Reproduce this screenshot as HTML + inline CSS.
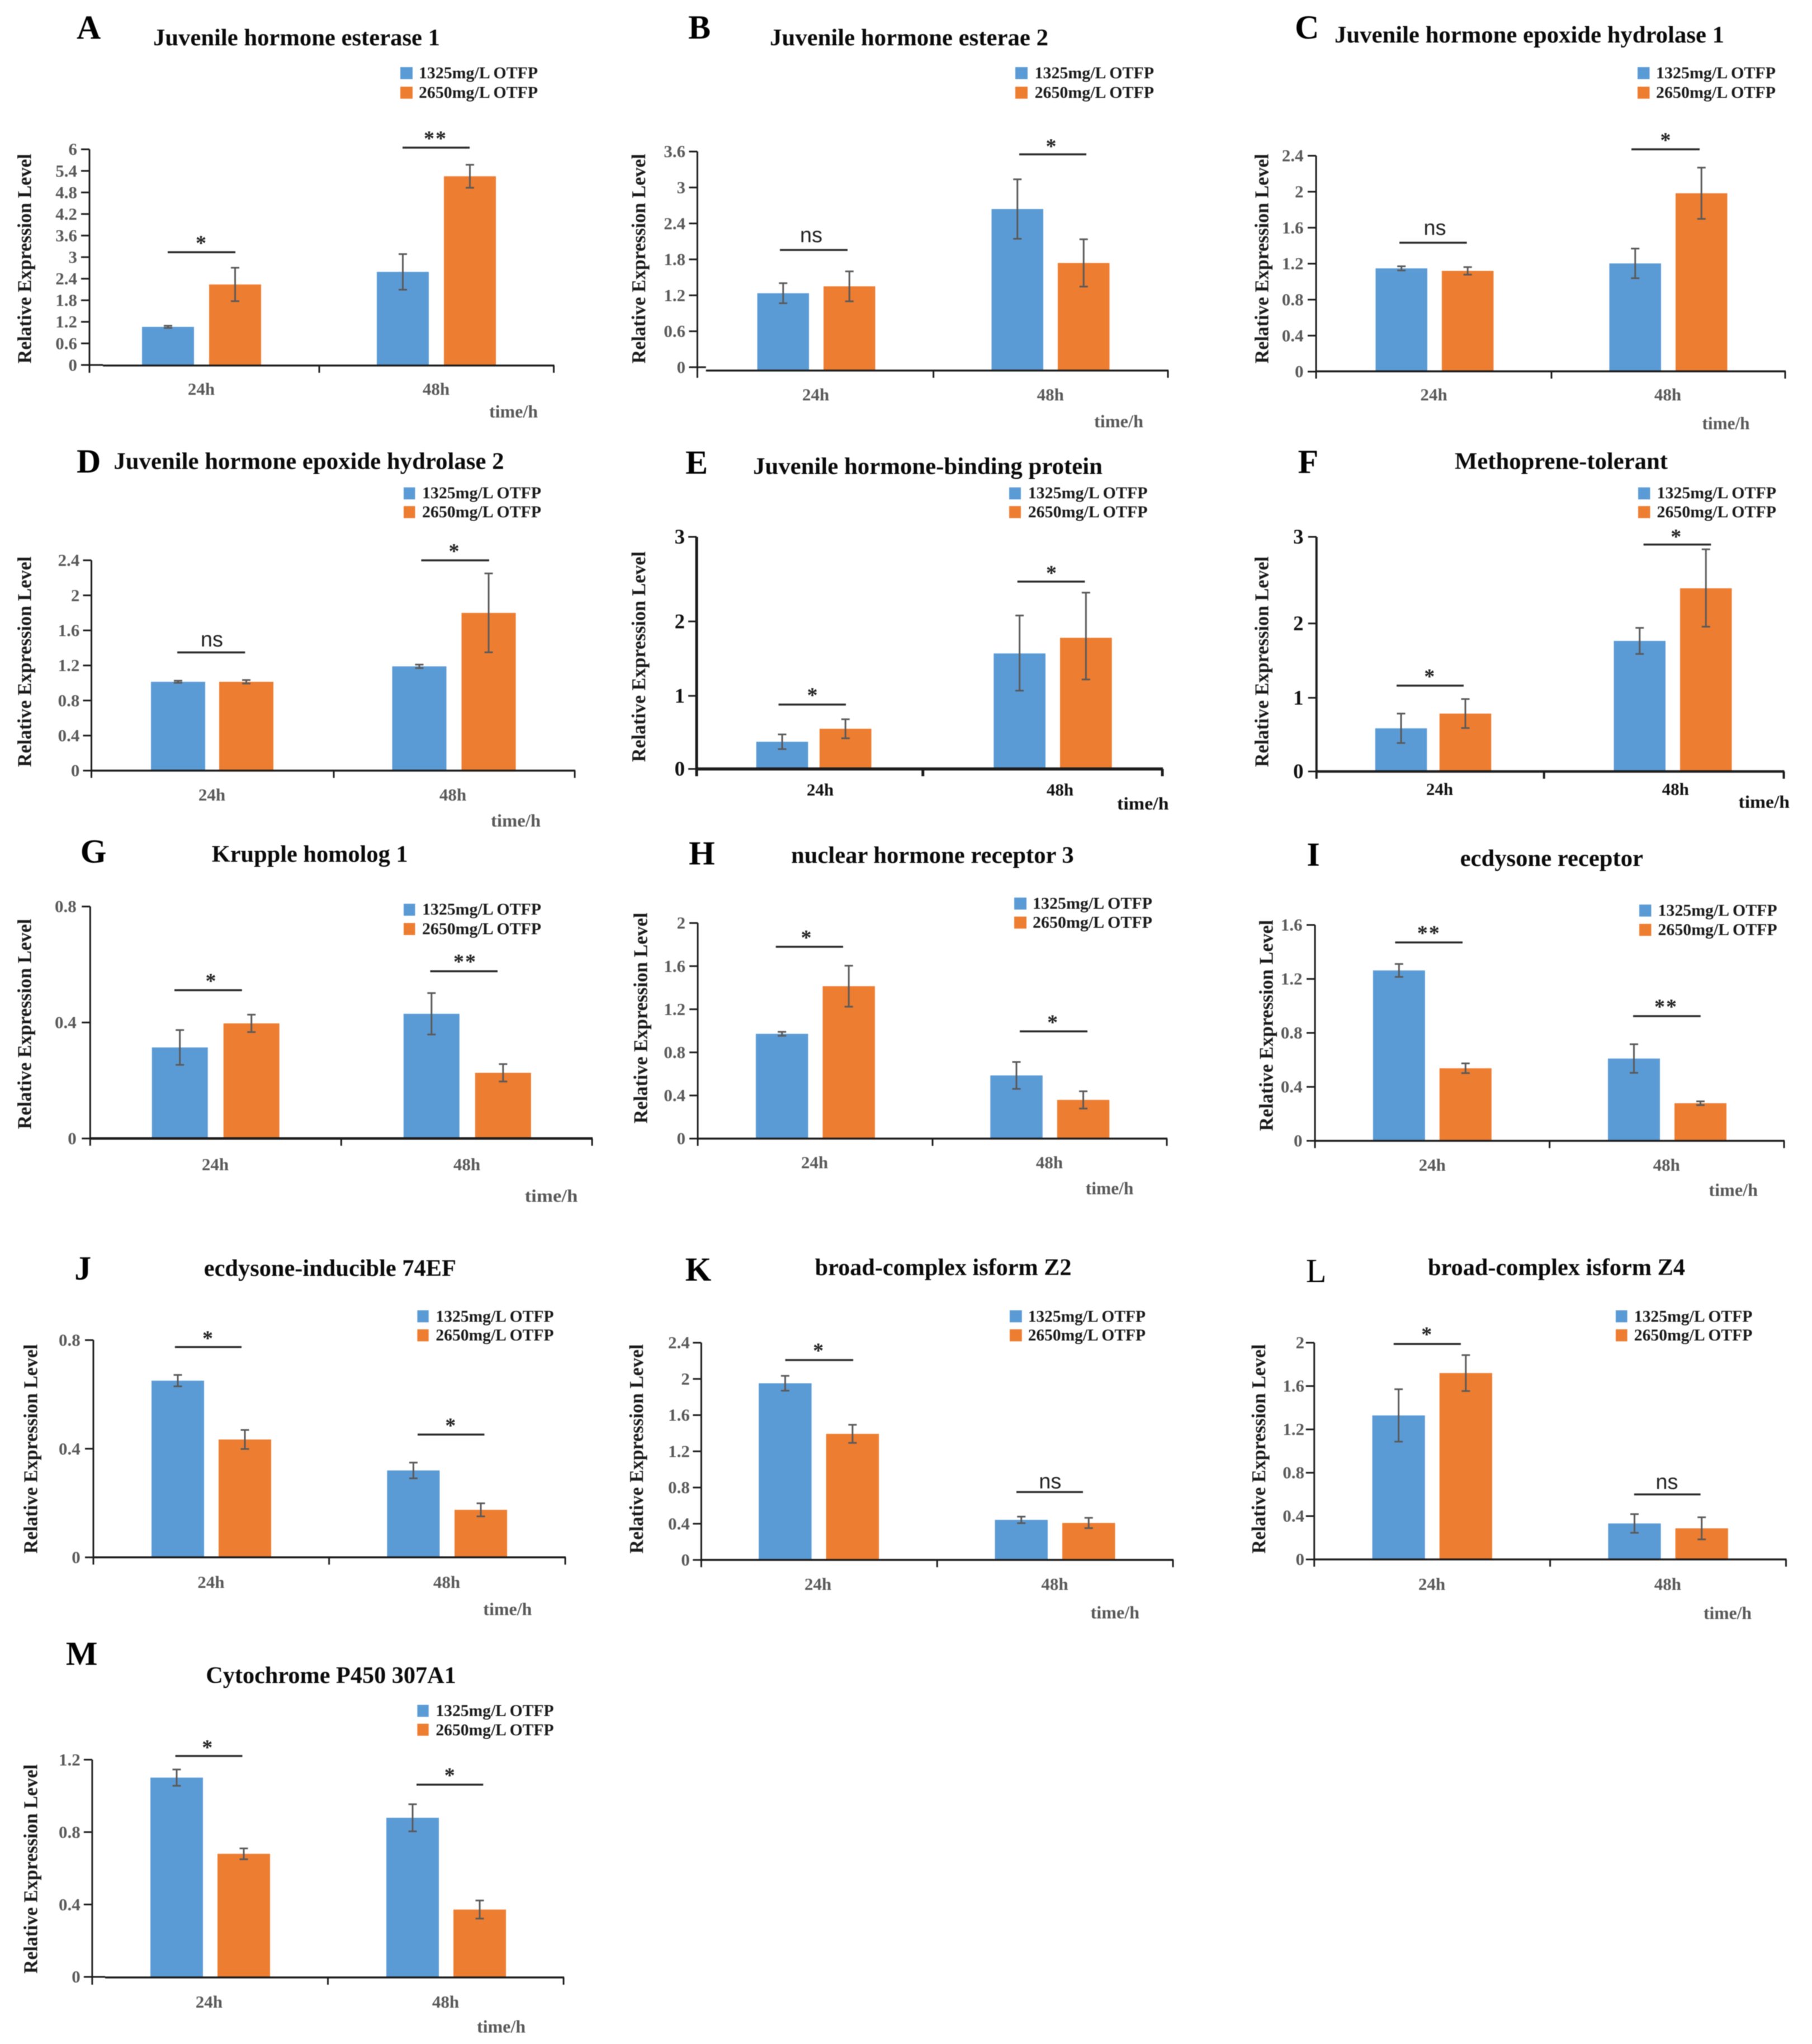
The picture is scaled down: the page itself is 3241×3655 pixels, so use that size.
<!DOCTYPE html>
<html lang="en">
<head>
<meta charset="utf-8">
<title>Relative expression of hormone pathway genes after OTFP exposure</title>
<style>
html,body{margin:0;padding:0;background:#fff;width:3241px;height:3655px;overflow:hidden}
svg{display:block;filter:blur(0.9px)}
</style>
</head>
<body>
<svg id="figure" xmlns="http://www.w3.org/2000/svg" width="3241" height="3655" viewBox="0 0 3241 3655">
<rect x="0" y="0" width="3241" height="3655" fill="#ffffff"/>
</svg>
<script>
// ---- Chart data (one row per panel, A to M) ----
const panelLetters = ['A','B','C','D','E','F','G','H','I','J','K','L','M'];
const panelTitles = [
  'Juvenile hormone esterase 1','Juvenile hormone esterae 2','Juvenile hormone epoxide hydrolase 1',
  'Juvenile hormone epoxide hydrolase 2','Juvenile hormone-binding protein','Methoprene-tolerant',
  'Krupple homolog 1','nuclear hormone receptor 3','ecdysone receptor',
  'ecdysone-inducible 74EF','broad-complex isform Z2','broad-complex isform Z4','Cytochrome P450 307A1'
];
const categories = ['24h','48h'];
const seriesNames = ['1325mg/L OTFP','2650mg/L OTFP'];
const yAxisTitle = 'Relative Expression Level';
const xAxisTitle = 'time/h';
const tickLabels = [
  ['0','0.6','1.2','1.8','2.4','3','3.6','4.2','4.8','5.4','6'],
  ['0','0.6','1.2','1.8','2.4','3','3.6'],
  ['0','0.4','0.8','1.2','1.6','2','2.4'],
  ['0','0.4','0.8','1.2','1.6','2','2.4'],
  ['0','1','2','3'],
  ['0','1','2','3'],
  ['0','0.4','0.8'],
  ['0','0.4','0.8','1.2','1.6','2'],
  ['0','0.4','0.8','1.2','1.6'],
  ['0','0.4','0.8'],
  ['0','0.4','0.8','1.2','1.6','2','2.4'],
  ['0','0.4','0.8','1.2','1.6','2'],
  ['0','0.4','0.8','1.2']
];
const lowDoseValues = [
  [1.06,2.59],[1.235,2.64],[1.148,1.203],[1.0135,1.19],[0.372,1.57],[0.586,1.765],
  [0.314,0.43],[0.972,0.586],[1.263,0.61],[0.6506,0.32],[1.952,0.4426],[1.329,0.332],[1.101,0.879]
];
const highDoseValues = [
  [2.24,5.25],[1.35,1.74],[1.12,1.983],[1.0135,1.80],[0.55,1.78],[0.786,2.406],
  [0.397,0.2265],[1.414,0.359],[0.538,0.279],[0.434,0.175],[1.393,0.4085],[1.72,0.287],[0.68,0.372]
];
const lowDoseErrors = [
  [0.03,0.495],[0.167,0.497],[0.023,0.165],[0.012,0.02],[0.1,0.5],[0.2,0.175],
  [0.06,0.0715],[0.018,0.125],[0.048,0.106],[0.021,0.029],[0.082,0.036],[0.242,0.086],[0.045,0.075]
];
const highDoseErrors = [
  [0.465,0.32],[0.25,0.395],[0.042,0.285],[0.02,0.45],[0.13,0.56],[0.197,0.45],
  [0.03,0.03],[0.19,0.08],[0.036,0.014],[0.035,0.024],[0.1,0.057],[0.166,0.102],[0.03,0.05]
];
const significance = [
  ['*','**'],['ns','*'],['ns','*'],['ns','*'],['*','*'],['*','*'],
  ['*','**'],['*','*'],['**','**'],['*','*'],['*','ns'],['*','ns'],['*','*']
];

// ---- Panel geometry (separate from data) ----
const layouts = [
 {ax:160,y0:652.6,top:267,axisY:653.6,xs:184,right:990.5,mid:571,c:[360.5,780.5],w:93,gap:[27,27],tickR:138,yt:[43.5,275,650],title:[274,787,67],letter:[137,69],
  leg:[716,22,[120,155],749,962,[130,165]],catY:696,catX:[360,780],time:[875,962,736],sig:[[300,421,451,360.5,429],[720,840,264,779,242]]},
 {ax:1247.3,y0:656.6,top:271,axisY:662.6,xs:1262.7,right:2089,mid:1669.6,c:[1460,1879],w:92.5,gap:[26,26],tickR:1226,yt:[1142,275,650],title:[1377,1875,67],letter:[1231,69],
  leg:[1816,22,[120,155],1850.6,2064,[130,165]],catY:706,catX:[1459,1878.7],time:[1957,2045,753.5],sig:[[1395,1516,447,1451,423],[1823,1943,276,1881,256]]},
 {ax:2354,y0:664.5,top:278.5,axisY:664,right:3193,mid:2775,c:[2565.9,2984],w:92.5,gap:[26,26],tickR:2331.5,yt:[2256.4,275,650],title:[2387,3084,62],letter:[2316,69],
  leg:[2929,21.5,[120,155],2962,3176,[130,165]],catY:706,catX:[2564.5,2983],time:[3044.5,3129.5,757],sig:[[2503,2623.6,434,2566.5,410],[2918,3040,267,2980,245]]},
 {ax:163.5,y0:1378,top:1001.9,axisY:1378,right:1028,mid:597,c:[379.5,812],w:97,gap:[25,27],tickR:142.4,yt:[43.5,995,1371.5],title:[203.4,901.5,824.6],letter:[137,845],
  leg:[722,20.5,[871.5,905],755,968,[881,915]],catY:1421.5,catX:[379,810],time:[878,967,1467.5],sig:[[317,438.4,1166.6,379,1146],[753.4,874.8,1002,813,980]]},
 {ax:1246,y0:1375,top:960,axisY:1375,right:2079,mid:1650.7,c:[1455.6,1883],w:92.7,gap:[20.5,26],tickR:1225,yt:[1142,986,1362.5],title:[1347,1972,833.6],letter:[1226,847],
  leg:[1805,21,[871.5,905],1838.7,2052.6,[881,915]],catY:1412.6,catX:[1467,1896],time:[1998,2090.5,1437],sig:[[1392.5,1513,1259.9,1454,1237.6],[1819.7,1940.4,1040,1881.5,1018.8]],
  yPx:[1375,1244.3,1111.2,960],dark:true,yw:5,xw:5.5},
 {ax:2354.7,y0:1379.5,top:960,axisY:1379.5,right:3190.5,mid:2761.7,c:[2563.5,2992],w:92.5,gap:[22.5,26],tickR:2331.5,yt:[2256.4,995,1371.5],title:[2602,2983,824.6],letter:[2321.5,846],
  leg:[2930,21.5,[871.5,905],2963.5,3177,[881,915]],catY:1411.7,catX:[2575,2996.7],time:[3109.5,3201,1434],sig:[[2498,2618,1226,2557.8,1204],[2939.6,3060.4,973.7,2998.7,954]],
  yPx:[1379.5,1247.8,1114.8,960],dark:true,yw:4,xw:4.5},
 {ax:161.3,y0:2035.8,top:1621,axisY:2035.8,right:1059,mid:610.3,c:[385.7,835.8],w:100,gap:[28,28],tickR:136.8,yt:[43.5,1643,2019],title:[378.8,729.6,1527],letter:[143.8,1542.5],
  leg:[722,20.5,[1616,1650.5],755,968,[1625.5,1660.3]],catY:2082.6,catX:[385,835],time:[938.6,1033.3,2138.4],sig:[[312,432.8,1770.6,378,1748.7],[769.5,890,1736.7,832,1714]],xw:4.5},
 {ax:1248,y0:2036,top:1650.5,axisY:2036,right:2087,mid:1668,c:[1458.4,1877.8],w:93.5,gap:[26,26],tickR:1226,yt:[1145.6,1632,2009],title:[1415,1920.7,1529],letter:[1232,1546],
  leg:[1814,22,[1605,1639],1847,2061,[1614.8,1649.2]],catY:2079,catX:[1457,1877],time:[1941.8,2027.4,2125],sig:[[1387.6,1508,1693,1443,1671],[1824,1945,1844.3,1883.6,1822.4]]},
 {ax:2352,y0:2040,top:1654,axisY:2040,right:3191,mid:2771.6,c:[2561.8,2982],w:93,gap:[26,26],tickR:2329.5,yt:[2264.4,1645,2022.4],title:[2611.6,2939,1534.5],letter:[2337.4,1548],
  leg:[2932,21.5,[1617.5,1652],2965.5,3178.6,[1627.3,1662.1]],catY:2083.5,catX:[2561.8,2980.7],time:[3056.4,3144,2128],sig:[[2495.4,2616,1685.3,2555.8,1663],[2921,3041.8,1817,2980,1794.7]]},
 {ax:167,y0:2784.8,top:2396.3,axisY:2784.8,right:1011,mid:588.6,c:[378,799.7],w:94,gap:[26,26.6],tickR:143.8,yt:[54.7,2403.7,2778],title:[364.8,815.9,2267.3],letter:[133.3,2288],
  leg:[746.4,20.3,[2343,2377],779.4,990.5,[2353.6,2387]],catY:2829.4,catX:[377.4,799],time:[864.3,951.3,2877.6],sig:[[312.9,432,2408.7,372.5,2387.6],[747,866.4,2565.3,806.7,2543.7]]},
 {ax:1254.3,y0:2789.4,top:2401,axisY:2789.4,right:2098,mid:1676.2,c:[1464.6,1887],w:94.5,gap:[26,26],tickR:1233.8,yt:[1138,2403.7,2778],title:[1457.7,1916.5,2266],letter:[1225.6,2290],
  leg:[1806,21.8,[2343,2377],1838.7,2049,[2353.6,2387]],catY:2833,catX:[1463,1886.5],time:[1950.6,2038,2883.6],sig:[[1404.5,1526,2432,1464.6,2409.6],[1818,1937,2668,1878.3,2651.6]]},
 {ax:2350.7,y0:2788.5,top:2401,axisY:2788.5,right:3194.5,mid:2772.6,c:[2561.7,2983.6],w:94.2,gap:[26,26],tickR:2333,yt:[2251,2403.7,2778],title:[2554,3014,2266],letter:[2335.7,2292.6],thinLetter:true,
  leg:[2890,20.6,[2343,2377],2922.8,3134.4,[2353.6,2387]],catY:2833,catX:[2561,2982.9],time:[3047,3133,2884.5],sig:[[2492.7,2612.9,2403.2,2552.8,2380.7],[2922.8,3041.6,2672.3,2981.5,2652.6]]},
 {ax:164.9,y0:3535,top:3146.6,axisY:3536,xs:188,right:1008,mid:586.5,c:[376,798],w:94,gap:[26,26],tickR:143.8,yt:[54.7,3155,3529],title:[368.3,815.8,2995.6],letter:[117.9,2977],
  leg:[746.4,20.3,[3048.5,3082.3],779.4,990.5,[3058.6,3092.8]],catY:3579.8,catX:[373.9,797],time:[853,940,3624],sig:[[313.6,433.5,3140,371.8,3118.8],[745,864.3,3191.3,805.3,3169]]}
];

// ---- Drawing helpers ----
const NS = 'http://www.w3.org/2000/svg';
const BLUE = '#5B9BD5', ORANGE = '#ED7D31', AXIS = '#1c1c1c', ERR = '#595959', GREY = '#595959';
const SERIF = '"Liberation Serif","Noto Serif CJK SC",serif';
const SANS = '"Liberation Sans","Noto Sans CJK SC",sans-serif';
const root = document.getElementById('figure');

function svgEl(tag, parent, attrs) {
  const el = document.createElementNS(NS, tag);
  for (const k in attrs) el.setAttribute(k, attrs[k]);
  parent.appendChild(el);
  return el;
}
function label(parent, str, attrs) {
  const el = svgEl('text', parent, attrs);
  el.textContent = str;
  return el;
}
// Vertical axis function: value -> pixel, linear between tick positions
function makeYScale(lay, tickVals) {
  const n = tickVals.length;
  const px = lay.yPx || tickVals.map(function (v) {
    return lay.y0 + (lay.top - lay.y0) * (v - tickVals[0]) / (tickVals[n - 1] - tickVals[0]);
  });
  return function (v) {
    let i = 0;
    while (i < n - 2 && v > tickVals[i + 1]) i++;
    return px[i] + (px[i + 1] - px[i]) * (v - tickVals[i]) / (tickVals[i + 1] - tickVals[i]);
  };
}
// Horizontal axis function: category index -> pixel centre of its bar group
function makeXBand(lay) {
  return function (i) { return lay.c[0] + i * (lay.c[1] - lay.c[0]); };
}

function drawPanel(p) {
  const lay = layouts[p];
  const labels = tickLabels[p];
  const tickVals = labels.map(Number);
  const y = makeYScale(lay, tickVals);
  const xBand = makeXBand(lay);
  const yw = lay.yw || 3, xw = lay.xw || 3.5;
  const tickFill = lay.dark ? '#111111' : GREY;
  const tickSize = lay.dark ? 37 : 31;
  const catFill = lay.dark ? '#111111' : GREY;

  const g = svgEl('g', root, {});
  
  

  // Panel letter
  const letter = label(g, panelLetters[p], {x: lay.letter[0], y: lay.letter[1], 'font-size': 60, 'font-weight': lay.thinLetter ? 'normal' : 'bold', fill: '#000', 'font-family': SERIF});
  
  

  // Title
  const title = label(g, panelTitles[p], {x: lay.title[0], y: lay.title[2] + 14, 'font-size': 42, 'font-weight': 'bold', fill: '#0a0a0a', textLength: lay.title[1] - lay.title[0], lengthAdjust: 'spacingAndGlyphs', 'font-family': SERIF});
  
  

  // Legend
  const colors = [BLUE, ORANGE];
  for (let s = 0; s < 2; s++) {
    const sw = svgEl('rect', g, {x: lay.leg[0], y: lay.leg[2][s], width: lay.leg[1], height: 21.5, fill: colors[s]});
    
    
    const lt = label(g, seriesNames[s], {x: lay.leg[3], y: lay.leg[5][s] + 10, 'font-size': 30, 'font-weight': 'bold', fill: '#1a1a1a', textLength: lay.leg[4] - lay.leg[3], lengthAdjust: 'spacingAndGlyphs', 'font-family': SERIF});
    
    
  }

  // Y-axis title
  const yt = label(g, yAxisTitle, {transform: 'translate(' + (lay.yt[0] + 12) + ' ' + lay.yt[2] + ') rotate(-90)', x: 0, y: 0, 'font-size': 35, 'font-weight': 'bold', fill: '#1a1a1a', textLength: lay.yt[2] - lay.yt[1], lengthAdjust: 'spacingAndGlyphs', 'font-family': SERIF});
  
  

  // Bars
  categories.forEach(function (cat, i) {
    const cx = xBand(i);
    const lowX = cx - lay.gap[i] / 2 - lay.w;
    const highX = cx + lay.gap[i] / 2;
    const lowV = lowDoseValues[p][i], highV = highDoseValues[p][i];
    const b1 = svgEl('rect', g, {x: lowX, y: y(lowV), width: lay.w, height: lay.axisY - y(lowV), fill: BLUE});
    
    
    const b2 = svgEl('rect', g, {x: highX, y: y(highV), width: lay.w, height: lay.axisY - y(highV), fill: ORANGE});
    
    

    // Error bars
    const lowErr = lowDoseErrors[p][i], highErr = highDoseErrors[p][i];
    const ex1 = lowX + lay.w / 2, ex2 = highX + lay.w / 2, cap = 7.5;
    const e1 = svgEl('path', g, {d: 'M' + ex1 + ' ' + y(lowV + lowErr) + 'V' + y(lowV - lowErr) + 'M' + (ex1 - cap) + ' ' + y(lowV + lowErr) + 'H' + (ex1 + cap) + 'M' + (ex1 - cap) + ' ' + y(lowV - lowErr) + 'H' + (ex1 + cap), stroke: ERR, 'stroke-width': 3, fill: 'none'});
    
    
    const e2 = svgEl('path', g, {d: 'M' + ex2 + ' ' + y(highV + highErr) + 'V' + y(highV - highErr) + 'M' + (ex2 - cap) + ' ' + y(highV + highErr) + 'H' + (ex2 + cap) + 'M' + (ex2 - cap) + ' ' + y(highV - highErr) + 'H' + (ex2 + cap), stroke: ERR, 'stroke-width': 3, fill: 'none'});
    
    

    // Category label
    const cl = label(g, cat, {x: lay.catX[i], y: lay.catY + 10, 'font-size': 31, 'font-weight': 'bold', fill: catFill, 'text-anchor': 'middle', 'font-family': SERIF});
    
    

    // Significance marker
    const s = lay.sig[i], mark = significance[p][i];
    const sl = svgEl('line', g, {x1: s[0], x2: s[1], y1: s[2], y2: s[2], stroke: '#2a2a2a', 'stroke-width': 3.5});
    
    
    const isNs = mark === 'ns';
    const st = label(g, mark, {x: s[3], y: s[4] + (isNs ? 10 : 18), 'font-size': isNs ? 38 : 38, 'font-weight': isNs ? 'normal' : 'bold', fill: '#222', 'text-anchor': 'middle', 'letter-spacing': isNs ? 0 : 2, 'font-family': isNs ? SANS : SERIF});
    
    
  });

  // Axes
  const yAxis = svgEl('line', g, {x1: lay.ax, x2: lay.ax, y1: lay.top, y2: lay.axisY + 13, stroke: AXIS, 'stroke-width': yw});
  
  
  const xAxis = svgEl('line', g, {x1: lay.xs || lay.ax, x2: lay.right + 1, y1: lay.axisY, y2: lay.axisY, stroke: AXIS, 'stroke-width': xw});
  
  
  [lay.mid, lay.right].forEach(function (tx) {
    const t = svgEl('line', g, {x1: tx, x2: tx, y1: lay.axisY, y2: lay.axisY + 13, stroke: AXIS, 'stroke-width': yw});
    
    
  });

  // Y ticks and labels
  labels.forEach(function (lab, k) {
    const ty = y(tickVals[k]);
    const tick = svgEl('line', g, {x1: lay.ax - 15, x2: (k === 0 && lay.xs) ? lay.xs : lay.ax, y1: ty, y2: ty, stroke: AXIS, 'stroke-width': 3});
    
    
    const tl = label(g, lab, {x: lay.tickR, y: ty + tickSize * 0.33, 'font-size': tickSize, 'font-weight': 'bold', fill: tickFill, 'text-anchor': 'end', 'font-family': SERIF});
    
    
  });

  // X-axis title
  const xt = label(g, xAxisTitle, {x: lay.time[0], y: lay.time[2] + 10.5, 'font-size': 32, 'font-weight': 'bold', fill: catFill, textLength: lay.time[1] - lay.time[0], lengthAdjust: 'spacingAndGlyphs', 'font-family': SERIF});
  
  
}

panelLetters.forEach(function (_, p) { drawPanel(p); });
</script>
</body>
</html>
